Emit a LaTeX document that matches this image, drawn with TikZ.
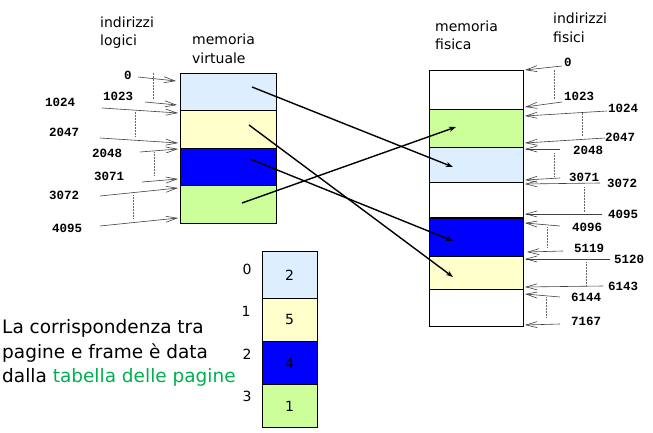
\documentclass[tikz,border=0pt]{standalone}
\usepackage{fontspec}
\setmainfont{DejaVu Sans}
\setmonofont{Liberation Mono}
\usetikzlibrary{arrows.meta}
\definecolor{lblue}{HTML}{DDEEFF}
\definecolor{lyellow}{HTML}{FFFFCC}
\definecolor{pblue}{HTML}{0000FF}
\definecolor{lgreen}{HTML}{CCFF99}
\definecolor{tgreen}{HTML}{00B050}
\begin{document}
\begin{tikzpicture}[x=1pt,y=-1pt,
 frame/.style={draw=black,line width=0.9pt,anchor=north west,inner sep=0pt,outer sep=0pt},
 addr/.style={font=\ttfamily\bfseries\fontsize{12.5}{12}\selectfont,inner sep=0pt,anchor=west},
 ptr/.style={draw=black!75,line width=0.6pt,-{Straight Barb[length=11pt,width=6pt,line width=0.6pt]}},
 guide/.style={draw=black!60,line width=0.5pt,densely dotted},
 mapar/.style={draw=black,line width=1.4pt,-{Stealth[length=7pt,width=5pt]}},
 head/.style={font=\fontsize{14}{17}\selectfont,inner sep=0pt,anchor=west},
 ptnum/.style={font=\fontsize{14}{17}\selectfont,inner sep=0pt},
 capt/.style={inner sep=0pt,anchor=west,font=\fontsize{18.5}{25}\selectfont},
]
\useasboundingbox (0,0) rectangle (653,433);

% headers
\node[head] (hl1) at (100,22) {indirizzi};
\node[head] (hl2) at (100,42) {logici};
\node[head] (hv1) at (192,39) {memoria};
\node[head] (hv2) at (192,58) {virtuale};
\node[head] (hf1) at (435,26) {memoria};
\node[head] (hf2) at (435,44) {fisica};
\node[head] (hp1) at (553,18) {indirizzi};
\node[head] (hp2) at (553,37) {fisici};

% virtual memory
\node[frame,fill=lblue,minimum width=96pt,minimum height=37pt] (v0) at (180,73) {};
\node[frame,fill=lyellow,minimum width=96pt,minimum height=38pt] (v1) at (180,110) {};
\node[frame,fill=pblue,minimum width=96pt,minimum height=37pt] (v2) at (180,148) {};
\node[frame,fill=lgreen,minimum width=96pt,minimum height=38pt] (v3) at (180,185) {};

% physical memory
\node[frame,fill=white,minimum width=94pt,minimum height=39pt] (f0) at (429,70) {};
\node[frame,fill=lgreen,minimum width=94pt,minimum height=38pt] (f1) at (429,109) {};
\node[frame,fill=lblue,minimum width=94pt,minimum height=35pt] (f2) at (429,147) {};
\node[frame,fill=white,minimum width=94pt,minimum height=36pt] (f3) at (429,182) {};
\node[frame,fill=pblue,minimum width=94pt,minimum height=38pt] (f4) at (429,218) {};
\node[frame,fill=lyellow,minimum width=94pt,minimum height=33pt] (f5) at (429,256) {};
\node[frame,fill=white,minimum width=94pt,minimum height=37pt] (f6) at (429,289) {};
\draw[line width=2pt] (f4.north west) -- (f4.north east);

% logical addresses
\node[addr] (a0) at (124,75) {0};
\node[addr] (a1023) at (103,96) {1023};
\node[addr] (a1024) at (45,102) {1024};
\node[addr] (a2047) at (49,132) {2047};
\node[addr] (a2048) at (92,153) {2048};
\node[addr] (a3071) at (94,176) {3071};
\node[addr] (a3072) at (49,195) {3072};
\node[addr] (a4095) at (52,228) {4095};
\draw[ptr] (138,77) -- (176,81);
\draw[ptr] (145,102) -- (177,105);
\draw[ptr] (102,108) -- (178,113);
\draw[ptr] (100,138) -- (178,143);
\draw[ptr] (140,152) -- (178,149);
\draw[ptr] (142,182) -- (178,179);
\draw[ptr] (100,196) -- (178,188);
\draw[ptr] (100,226) -- (178,218);
\draw[guide] (153,73) -- (153,100);
\draw[guide] (135,112) -- (135,137);
\draw[guide] (154,152) -- (154,175);
\draw[guide] (133,195) -- (133,218);

% physical addresses
\node[addr] (b0) at (564,62) {0};
\node[addr] (b1023) at (564,96) {1023};
\node[addr] (b1024) at (608,108) {1024};
\node[addr] (b2047) at (605,137) {2047};
\node[addr] (b2048) at (573,150) {2048};
\node[addr] (b3071) at (569,177) {3071};
\node[addr] (b3072) at (607,183) {3072};
\node[addr] (b4095) at (608,214) {4095};
\node[addr] (b4096) at (572,227) {4096};
\node[addr] (b5119) at (574,248) {5119};
\node[addr] (b5120) at (614,259) {5120};
\node[addr] (b6143) at (608,286) {6143};
\node[addr] (b6144) at (571,297) {6144};
\node[addr] (b7167) at (571,321) {7167};
\draw[ptr] (562,66) -- (525,70);
\draw[ptr] (562,102) -- (525,107);
\draw[ptr] (607,111) -- (525,116);
\draw[ptr] (605,138) -- (525,143);
\draw[ptr] (560,149) -- (525,149);
\draw[ptr] (560,178) -- (525,180);
\draw[ptr] (600,183) -- (525,184);
\draw[ptr] (602,214) -- (525,214);
\draw[ptr] (560,226) -- (525,223);
\draw[ptr] (563,251) -- (527,252);
\draw[ptr] (610,259) -- (525,259);
\draw[ptr] (603,286) -- (525,287);
\draw[ptr] (560,297) -- (525,294);
\draw[ptr] (560,324) -- (525,325);
\draw[guide] (554,70) -- (554,100);
\draw[guide] (582,113) -- (582,137);
\draw[guide] (554,153) -- (554,177);
\draw[guide] (584,187) -- (584,212);
\draw[guide] (547,227) -- (547,248);
\draw[guide] (586,262) -- (586,285);
\draw[guide] (546,297) -- (546,318);

% mapping arrows
\coordinate (s0) at (252,87);
\coordinate (s1) at (249,125);
\coordinate (s2) at (250,159);
\coordinate (s3) at (242,203);
\coordinate (e0) at (453,167);
\coordinate (e1) at (453,277);
\coordinate (e2) at (453,241);
\coordinate (e3) at (456,127);
\draw[mapar] (s0) -- (e0);
\draw[mapar] (s1) -- (e1);
\draw[mapar] (s2) -- (e2);
\draw[mapar] (s3) -- (e3);

% page table
\node[frame,fill=lblue,minimum width=55pt,minimum height=47pt] (t0) at (262,251) {};
\node[frame,fill=lyellow,minimum width=55pt,minimum height=43pt] (t1) at (262,298) {};
\node[frame,fill=pblue,minimum width=55pt,minimum height=43pt] (t2) at (262,341) {};
\node[frame,fill=lgreen,minimum width=55pt,minimum height=43pt] (t3) at (262,384) {};
\node[ptnum] (n0) at (289.5,275) {2};
\node[ptnum] (n1) at (289.5,319) {5};
\node[ptnum] (n2) at (289.5,363) {4};
\node[ptnum] (n3) at (289.5,406) {1};
\node[ptnum] (i0) at (247,269) {0};
\node[ptnum] (i1) at (246,311) {1};
\node[ptnum] (i2) at (247,354) {2};
\node[ptnum] (i3) at (247,396) {3};

% caption
\node[capt] (c1) at (2,328) {La corrispondenza tra};
\node[capt] (c2) at (2,353) {pagine e frame è data};
\node[capt] (c3) at (2,377) {dalla \textcolor{tgreen}{tabella delle pagine}};
\end{tikzpicture}
\end{document}
